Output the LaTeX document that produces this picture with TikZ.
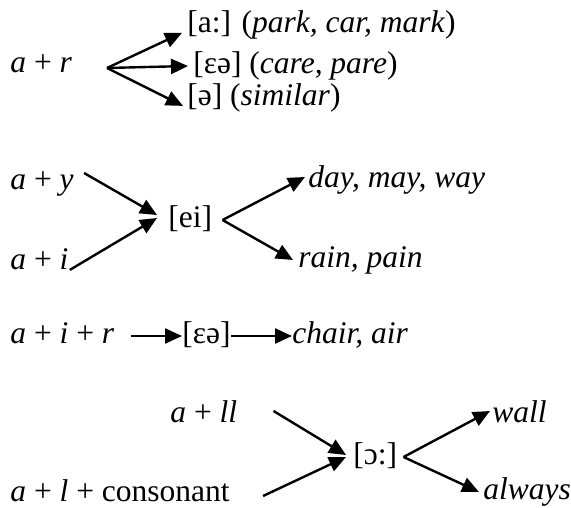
\documentclass[tikz,border=0pt]{standalone}
\usepackage{fontspec}
\setmainfont{Liberation Serif}
\usetikzlibrary{arrows.meta}

\begin{document}
\begin{tikzpicture}[x=0.5pt, y=-0.5pt,
    lbl/.style={anchor=west, inner sep=0pt, text height=11.8pt, text depth=3.9pt, font=\fontsize{15.75pt}{19pt}\selectfont},
    arr/.style={line width=1.2pt, -{Triangle[length=8.5pt, width=7.5pt]}}]

    \useasboundingbox (0,0) rectangle (571,507);

    % a + r
    \node[lbl] (ndAR) at (10,65) {\textit{a} + \textit{r}};
    \coordinate (ndForkAR) at (107,68);
    \node[lbl] (ndArA) at (187,25) {[a:] (\textit{park, car, mark})};
    \node[lbl] (ndArEa) at (193,66) {[ɛə] (\textit{care, pare})};
    \node[lbl] (ndArSchwa) at (187,98) {[ə] (\textit{similar})};
    \draw[arr] (ndForkAR) -- ([xshift=-2.5pt]ndArA.base west);
    \draw[arr] (ndForkAR) -- ([xshift=-2.5pt]ndArEa.west);
    \draw[arr] (ndForkAR) -- ([xshift=-2pt]ndArSchwa.base west);

    % a + y, a + i
    \node[lbl] (ndAY) at (10,182) {\textit{a} + \textit{y}};
    \node[lbl] (ndAI) at (10,262) {\textit{a} + \textit{i}};
    \node[lbl] (ndEI) at (168,220) {[ei]};
    \node[lbl] (ndDay) at (308,180) {\textit{day, may, way}};
    \node[lbl] (ndRain) at (298,260) {\textit{rain, pain}};
    \draw[arr] ([shift={(5pt,4.5pt)}]ndAY.east) -- ([shift={(-5.5pt,2.5pt)}]ndEI.west);
    \draw[arr] ([xshift=0.5pt]ndAI.base east) -- ([shift={(-5.5pt,1pt)}]ndEI.west);
    \draw[arr] ([xshift=5pt]ndEI.east) -- ([shift={(-1.5pt,1.5pt)}]ndDay.west);
    \draw[arr] ([xshift=5pt]ndEI.east) -- ([xshift=-2.5pt]ndRain.west);

    % a + i + r
    \node[lbl] (ndAIR) at (10,336) {\textit{a} + \textit{i} + \textit{r}};
    \node[lbl] (ndAirEa) at (182,336) {[ɛə]};
    \node[lbl] (ndChair) at (292,336) {\textit{chair, air}};
    \draw[arr] ([xshift=8pt]ndAIR.east) -- (ndAirEa.west);
    \draw[arr] (ndAirEa.east) -- (ndChair.west);

    % a + ll, a + l + consonant
    \node[lbl] (ndALL) at (170,415) {\textit{a} + \textit{ll}};
    \node[lbl] (ndALC) at (10,494) {\textit{a} + \textit{l} + consonant};
    \node[lbl] (ndAW) at (353,457) {[ɔ:]};
    \node[lbl] (ndWall) at (492,415) {\textit{wall}};
    \node[lbl] (ndAlways) at (483,492) {\textit{always}};
    \draw[arr] ([shift={(18pt,2pt)}]ndALL.east) -- ([shift={(-3.5pt,1pt)}]ndAW.west);
    \draw[arr] ([shift={(16.5pt,-1pt)}]ndALC.east) -- ([xshift=-3.5pt]ndAW.west);
    \draw[arr] ([xshift=3pt]ndAW.east) -- ([shift={(-1pt,2pt)}]ndWall.west);
    \draw[arr] ([xshift=3pt]ndAW.east) -- ([xshift=-2pt]ndAlways.west);
\end{tikzpicture}
\end{document}
